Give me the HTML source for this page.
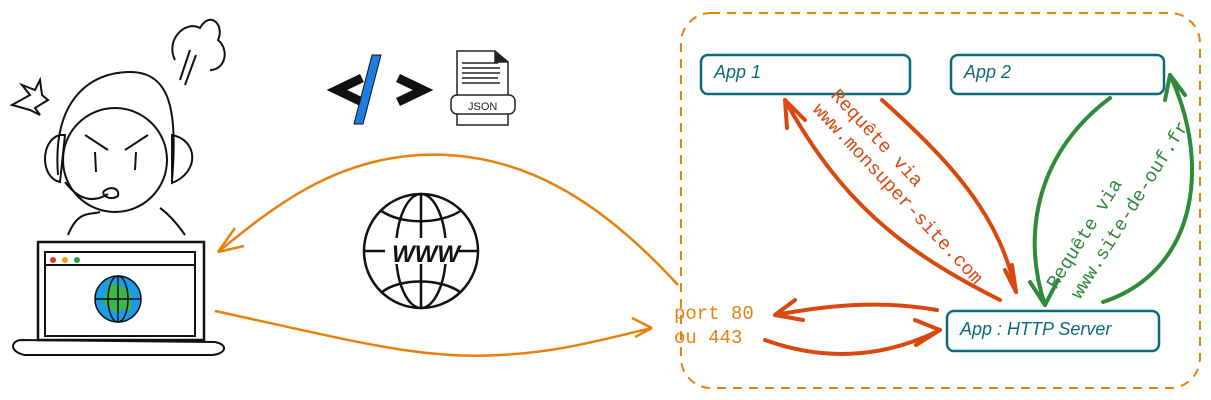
<!DOCTYPE html>
<html><head><meta charset="utf-8"><style>
html,body{margin:0;padding:0;background:#fff;}
svg{display:block;}
.mono{font-family:"Liberation Mono",monospace;}
.hand{font-family:"Liberation Sans",sans-serif;font-style:italic;}
</style></head><body>
<svg width="1211" height="400" viewBox="0 0 1211 400" xmlns="http://www.w3.org/2000/svg">
<rect x="681" y="13" width="519" height="375" rx="30" fill="none" stroke="#e8800c" stroke-width="2" stroke-dasharray="9 7"/>
<g fill="none" stroke="#0c6b7a" stroke-width="2.5">
<rect x="701" y="55" width="209" height="39" rx="7"/>
<rect x="951" y="55" width="213" height="39" rx="7"/>
<rect x="947" y="311" width="212" height="40" rx="7"/>
</g>
<g class="hand" fill="#0c6b7a" font-size="18">
<text x="714" y="78">App 1</text>
<text x="964" y="78">App 2</text>
<text x="960" y="335">App : HTTP Server</text>
</g>
<g fill="none" stroke="#e8800c" stroke-width="2.5">
<path d="M678 285 C600 200 520 150 420 155 C330 160 270 210 218 252"/>
<path d="M218 252 L235 228 M218 252 L244 246"/>
<path d="M215 311 C350 340 420 360 500 355 C560 352 600 340 652 328"/>
<path d="M652 328 L632 318 M652 328 L635 337"/>
</g>
<g class="mono" fill="#e8800c" font-size="19">
<text x="674" y="319">port 80</text>
<text x="674" y="343">ou 443</text>
</g>
<g fill="none" stroke="#d9480f" stroke-width="4" stroke-linecap="round">
<path d="M1000 300 C900 250 840 200 785 100"/>
<path d="M785 100 L787 128 M785 100 L805 120"/>
<path d="M882 100 C960 170 1000 220 1016 292"/>
<path d="M1016 292 L1005 270 M1016 292 L1012 265"/>
<path d="M937 310 C880 300 830 305 775 315"/>
<path d="M775 315 L795 300 M775 315 L803 320"/>
<path d="M765 340 C820 360 880 360 940 330"/>
<path d="M940 330 L915 320 M940 330 L916 345"/>
</g>
<g fill="none" stroke="#2f8a3a" stroke-width="4" stroke-linecap="round">
<path d="M1110 98 C1040 150 1020 230 1045 305"/>
<path d="M1045 305 L1030 282 M1045 305 L1058 280"/>
<path d="M1103 302 C1200 270 1210 160 1170 75"/>
<path d="M1170 75 L1165 100 M1170 75 L1185 95"/>
</g>
<g class="mono" fill="#d9480f" font-size="19">
<text transform="translate(830,96) rotate(47)">Requête via</text>
<text transform="translate(812,110) rotate(47)">www.monsuper-site.com</text>
</g>
<g class="mono" fill="#2f8a3a" font-size="19">
<text transform="translate(1056,290) rotate(-58)">Requête via</text>
<text transform="translate(1080,300) rotate(-58)">www.site-de-ouf.fr</text>
</g>
<g fill="#111" stroke="#111" stroke-width="9" stroke-linejoin="miter" fill-opacity="0">
<path d="M362 78 L337 90 L362 102"/>
<path d="M398 78 L423 90 L398 102"/>
</g>
<polygon points="372,55 381,55 363,124 354,124" fill="#1e7fe0" stroke="#111" stroke-width="1"/>
<g fill="none" stroke="#222" stroke-width="1.5">
<path d="M457 51 L495 51 L508 62 L508 125 L457 125 Z"/>
<path d="M495 51 L495 62 L508 62" fill="#222"/>
<path d="M462 63 L498 63 M462 68 L500 68 M462 73 L500 73 M462 78 L498 78 M462 83 L500 83"/>
<rect x="451" y="95" width="64" height="19" rx="6" fill="#fff"/>
</g>
<text x="468" y="110" font-family="Liberation Sans" font-size="11" fill="#222">JSON</text>
<g fill="none" stroke="#111" stroke-width="2.5">
<circle cx="421" cy="251" r="57"/>
<ellipse cx="421" cy="251" rx="25" ry="57"/>
<path d="M421 194 L421 308 M365 251 L385 251 M457 251 L478 251"/>
<path d="M380 210 C400 225 440 225 462 210 M382 292 C400 278 440 278 460 292"/>
</g>
<rect x="390" y="238" width="62" height="26" fill="#fff"/>
<text x="392" y="262" font-family="Liberation Sans" font-style="italic" font-weight="bold" font-size="24" fill="#111">WWW</text>
<g fill="none" stroke="#111" stroke-width="2">
<path d="M58 175 C52 100 90 72 130 72 C170 72 178 110 172 180"/>
<circle cx="115" cy="160" r="52"/>
<path d="M60 135 C40 140 40 178 60 182 L65 135 Z M172 135 C198 140 200 172 172 183 Z"/>
<path d="M85 135 L108 150 M148 135 L125 150 M95 152 L96 172 M136 152 L135 170"/>
<path d="M103 192 C110 185 120 188 118 196 C112 200 104 198 103 192 M65 182 C80 202 95 202 108 194"/>
<path d="M68 235 C78 210 90 215 100 212 M160 208 C170 215 178 225 185 235"/>
<path d="M175 60 C165 40 185 20 200 28 C210 10 225 25 218 40 C230 50 225 70 210 70 M185 85 L196 55 M180 80 L190 50"/>
<path d="M12 105 L30 95 L22 85 L35 90 L40 80 L42 95 L48 100 L35 108 L40 115 L30 110 Z"/>
<rect x="38" y="242" width="166" height="98" stroke-width="2.5"/>
<rect x="45" y="252" width="150" height="84"/>
<path d="M45 265 L195 265"/>
<path d="M20 340 L215 342 C230 345 225 355 210 355 L25 355 C10 352 10 342 20 340"/>
</g>
<circle cx="53" cy="260" r="3" fill="#e03131"/>
<circle cx="65" cy="260" r="3" fill="#f0a30a"/>
<circle cx="77" cy="260" r="3" fill="#2f9e44"/>
<circle cx="118" cy="299" r="23" fill="#1c9be8" stroke="#111" stroke-width="1.5"/>
<path d="M108 283 C122 285 135 290 130 300 C135 310 128 315 122 308 C115 320 110 305 105 305 C100 295 110 295 108 283 Z" fill="#3cb54a"/>
<g fill="none" stroke="#111" stroke-width="1.5"><ellipse cx="118" cy="299" rx="10" ry="23"/><path d="M95 299 L141 299 M118 276 L118 322"/></g>
</svg>
</body></html>
